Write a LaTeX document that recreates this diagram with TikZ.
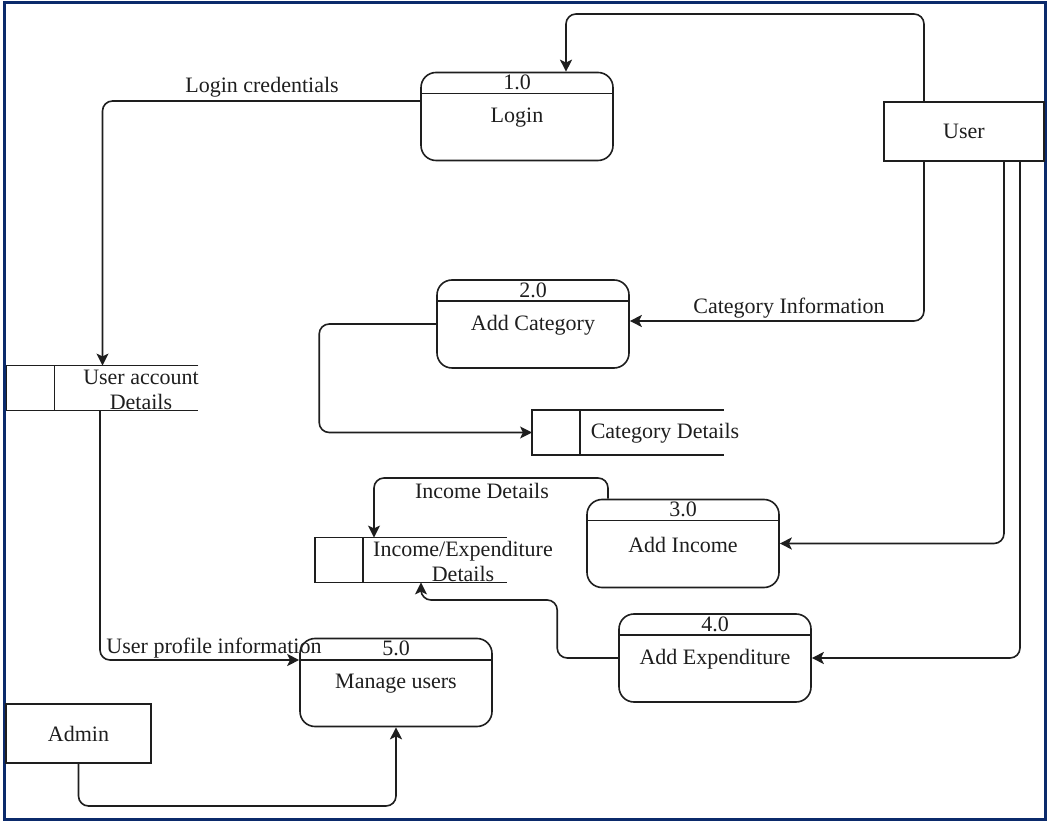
\documentclass[tikz,border=0pt]{standalone}
\usepackage{fontspec}
\setmainfont{Liberation Serif}
\usetikzlibrary{arrows.meta,calc}
\definecolor{framecol}{HTML}{0B2A6B}
\definecolor{inkcol}{HTML}{1E1E1E}
\tikzset{
  proc/.style={draw=inkcol, rounded corners=7.5pt, minimum width=96pt, minimum height=44pt, inner sep=0pt, line width=0.8pt},
  ent/.style={draw=inkcol, inner sep=0pt, line width=0.8pt},
  storebox/.style={draw=none, inner sep=0pt, minimum width=95.5pt, minimum height=22pt},
  txt/.style={inner sep=0pt, font=\fontsize{11}{12.5}\selectfont, align=center, text=inkcol},
  flow/.style={draw=inkcol, line width=0.8pt, rounded corners=5pt, -{Stealth[length=6pt,width=6pt,inset=1.4pt]}},
}
\newcommand\procnode[5]{%
  \node[proc] (#1) at (#2,#3) {};
  \draw[draw=inkcol, line width=0.8pt] ([yshift=-11pt]#1.north west) -- ([yshift=-11pt]#1.north east);
  \node[txt] (#1n) at ([yshift=-5.5pt]#1.north) {#4};
  \node[txt] (#1t) at ([yshift=-0.5pt]#1.center) {#5};
}
\newcommand\storenode[3]{%
  \node[storebox] (#1) at (#2,#3) {};
  \draw[draw=inkcol, line width=0.8pt] (#1.north east) -- (#1.north west) -- (#1.south west) -- (#1.south east);
  \draw[draw=inkcol, line width=0.8pt] ([xshift=24pt]#1.north west) -- ([xshift=24pt]#1.south west);
}
\begin{document}
\begin{tikzpicture}[x=0.5pt, y=-0.5pt]
\useasboundingbox (0,0) rectangle (1048,822);
\draw[framecol, line width=1.5pt] (4,3) rectangle (1045,819);

% processes
\procnode{p1}{517}{116.5}{1.0}{Login}
\procnode{p2}{533}{324}{2.0}{Add Category}
\procnode{p3}{683}{543.5}{3.0}{Add Income}
\procnode{p4}{715}{658}{4.0}{Add Expenditure}
\procnode{p5}{396}{682.5}{5.0}{Manage users}

% external entities
\node[ent, minimum width=80pt, minimum height=29.5pt] (user) at (964,131.5) {};
\node[txt] (userT) at (964,131.5) {User};
\node[ent, minimum width=72.5pt, minimum height=29.5pt] (admin) at (78.5,733.5) {};
\node[txt] (adminT) at (78.5,733.5) {Admin};

% data stores
\storenode{uad}{102.5}{388}
\node[txt] (uadT) at (141,390) {User account\\Details};
\storenode{cat}{628}{432.5}
\node[txt] (catT) at (665,433) {Category Details};
\storenode{ied}{411}{560}
\node[txt] (iedT) at (463,561) {Income/Expenditure\\Details};

% anchor coordinates
\coordinate (uTop) at ([xshift=-20pt]user.north);
\coordinate (uB1) at ([xshift=-20pt]user.south);
\coordinate (uB2) at ([xshift=20pt]user.south);
\coordinate (uB3) at ([xshift=28pt]user.south);
\coordinate (lgIn) at ([xshift=24.5pt]p1.north);
\coordinate (lgOut) at ([yshift=7.75pt]p1.west);
\coordinate (p2In) at ([yshift=1.5pt]p2.east);
\coordinate (incOut) at ([xshift=-37.5pt]p3.north);
\coordinate (iedIn1) at ([xshift=-18.5pt]ied.north);
\coordinate (iedIn2) at ([xshift=5pt]ied.south);
\coordinate (p5In) at ([yshift=11.25pt]p5.west);
\coordinate (uadOut) at ([xshift=-1.25pt]uad.south);

% flows
\draw[flow] (uTop) |- (lgIn |- 0,14) -- (lgIn);
\draw[flow] (lgOut) -| (uad.north);
\draw[flow] (uB1) |- (p2In);
\draw[flow] (p2.west) -- ++(-117,0) |- (cat.west);
\draw[flow] (incOut) |- (iedIn1 |- 0,478) -- (iedIn1);
\draw[flow] (uB2) |- (p3.east);
\draw[flow] (uB3) |- (p4.east);
\draw[flow] (p4.west) -| ++(-61,-58) -| (iedIn2);
\draw[flow] (uadOut) |- (p5In);
\draw[flow] (admin.south) |- (p5.south |- 0,806) -- (p5.south);

% flow labels
\node[txt] (l1) at (262,87) {Login credentials};
\node[txt] (l2) at (789,308) {Category Information};
\node[txt] (l3) at (482,491) {Income Details};
\node[txt] (l4) at (214,648) {User profile information};
\end{tikzpicture}
\end{document}
